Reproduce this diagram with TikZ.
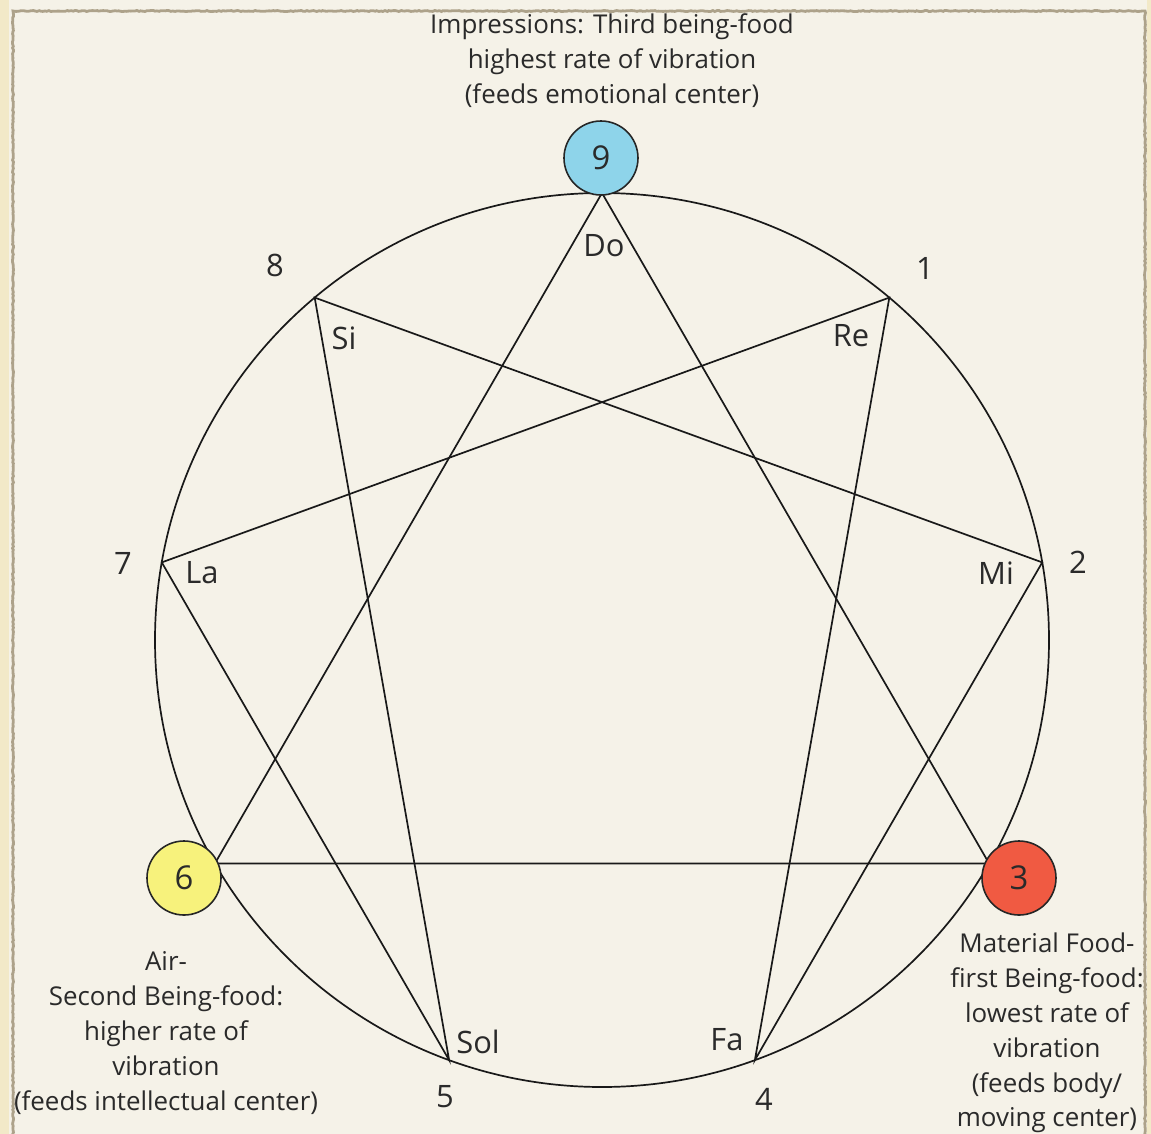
\documentclass[tikz,border=0pt]{standalone}
\usepackage{fontspec}
\setmainfont{Open Sans}
\usetikzlibrary{decorations.pathmorphing}
\definecolor{bg}{HTML}{F5F2E8}
\definecolor{frame}{HTML}{ADA28A}
\definecolor{strip}{HTML}{F2E9C8}
\definecolor{txt}{HTML}{2A2A2A}
\definecolor{blue9}{HTML}{8ED4EA}
\definecolor{red3}{HTML}{F05A42}
\definecolor{yel6}{HTML}{F7F27C}
\tikzset{
  lbl/.style={text=txt, font=\fontsize{31}{35}\selectfont, inner sep=0pt},
  note/.style={text=txt, font=\fontsize{26}{35}\selectfont, inner sep=0pt, align=center},
  food/.style={circle, draw=black!85, line width=1.6bp, minimum size=74bp, inner sep=0pt, text=txt, font=\fontsize{33}{35}\selectfont},
  edge/.style={draw=black!90, line width=1.7bp},
}
\begin{document}
\begin{tikzpicture}[x=1bp, y=-1bp]
\useasboundingbox (0,0) rectangle (1151,1134);
\fill[strip] (0,0) rectangle (1151,1134);
\fill[bg] (9,0) rectangle (1147,1134);
\draw[frame, line width=2.8bp, decorate, decoration={random steps, segment length=2bp, amplitude=0.5bp}] (13,1140) -- (13,11) -- (1145,11) -- (1145,1140);
% enneagram points
\def\cx{602}\def\cy{640}\def\R{447}
\foreach \k in {0,...,8} {
  \coordinate (p\k) at ({\cx+\R*sin(40*\k)}, {\cy-\R*cos(40*\k)});
}
\draw[edge] (\cx,\cy) circle[radius=\R];
\draw[edge] (p0) -- (p3) -- (p6) -- cycle;
\draw[edge] (p1) -- (p4) -- (p2) -- (p8) -- (p5) -- (p7) -- cycle;
% food circles
\node[food, fill=blue9] (n9) at (601,158) {9};
\node[food, fill=red3] (n3) at (1019,878) {3};
\node[food, fill=yel6] (n6) at (184,878) {6};
% notes
\node[lbl] (do) at (604,246) {Do};
\node[lbl] (re) at (851,336) {Re};
\node[lbl] (mi) at (996,573) {Mi};
\node[lbl] (fa) at (727,1040) {Fa};
\node[lbl] (sol) at (478,1042) {Sol};
\node[lbl] (la) at (202,573) {La};
\node[lbl] (si) at (344,338) {Si};
% numbers
\node[lbl] (l8) at (275,265) {8};
\node[lbl] (l1) at (925,268) {1};
\node[lbl] (l2) at (1078,562) {2};
\node[lbl] (l7) at (123,563) {7};
\node[lbl] (l5) at (445,1097) {5};
\node[lbl] (l4) at (764,1099) {4};
% descriptions
\node[note] (t9) at (612,61) {Impressions: Third being-food\\highest rate of vibration\\(feeds emotional center)};
\node[note] (t6) at (166,1033) {Air-\\Second Being-food:\\higher rate of\\vibration\\(feeds intellectual center)};
\node[note] (t3) at (1047,1033) {Material Food-\\first Being-food:\\lowest rate of\\vibration\\(feeds body/\\moving center)};
\end{tikzpicture}
\end{document}
